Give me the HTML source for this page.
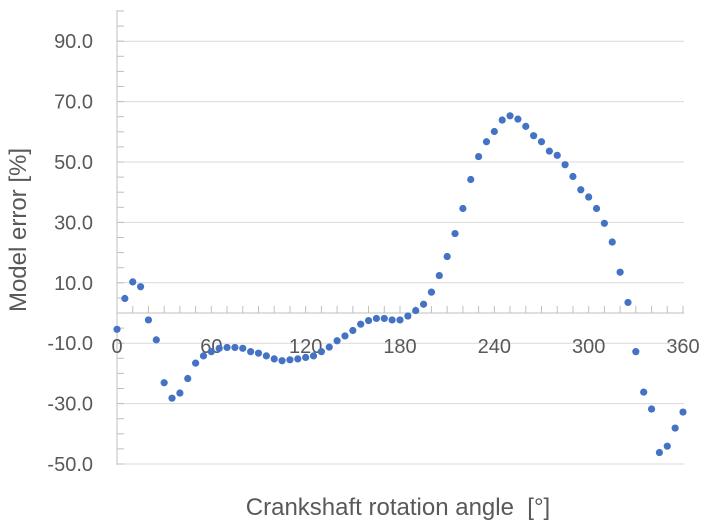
<!DOCTYPE html>
<html><head><meta charset="utf-8"><style>
html,body{margin:0;padding:0;background:#fff;}
svg{display:block;font-family:"Liberation Sans",sans-serif;}
</style></head><body>
<svg id="chart" width="708" height="532" viewBox="0 0 708 532"></svg>
<script>
const angles=[];for(let a=0;a<=360;a+=5)angles.push(a);
const errors=[-5.4,4.8,10.3,8.7,-2.3,-8.9,-23.1,-28.2,-26.5,-21.7,-16.6,-14.2,-12.8,-11.7,-11.4,-11.4,-11.7,-12.8,-13.3,-14.2,-15.2,-15.8,-15.5,-15.2,-14.7,-14.2,-12.8,-11.3,-9.2,-7.6,-5.8,-3.7,-2.5,-1.8,-1.8,-2.3,-2.3,-1.0,0.8,2.9,6.9,12.4,18.7,26.3,34.6,44.2,51.8,56.7,60.1,63.9,65.3,64.2,61.8,58.7,56.7,53.6,52.2,49.1,45.2,40.8,38.4,34.6,29.7,23.5,13.5,3.5,-12.8,-26.2,-31.8,-46.2,-44.1,-38.1,-32.8];
const xTicks=[0,60,120,180,240,300,360];
const yTicks=[90,70,50,30,10,-10,-30,-50];
const NS="http://www.w3.org/2000/svg";
const svg=document.getElementById('chart');
const X=v=>117+v*(566/360);
const Y=v=>313-v*3.02;
function el(t,a,p){const e=document.createElementNS(NS,t);for(const k in a)e.setAttribute(k,a[k]);(p||svg).appendChild(e);return e;}
for(const t of yTicks){
 const g=el('line',{x1:117,x2:684,y1:Y(t),y2:Y(t),stroke:'#d9d9d9','stroke-width':1});
 
 
 const l=el('text',{x:93,y:Y(t)+7,'text-anchor':'end','font-size':20,fill:'#595959'});
 l.textContent=t.toFixed(1);
 
 
}
const ya=el('line',{x1:117,x2:117,y1:10,y2:465,stroke:'#bfbfbf','stroke-width':1});


for(let v=-50;v<=100;v+=5){const t=el('line',{x1:117,x2:124,y1:Y(v),y2:Y(v),stroke:'#bfbfbf'});}
const xa=el('line',{x1:117,x2:684,y1:313,y2:313,stroke:'#bfbfbf','stroke-width':1});


for(let a=0;a<=360;a+=10){const t=el('line',{x1:X(a),x2:X(a),y1:306,y2:313,stroke:'#bfbfbf'});}
for(const t of xTicks){
 const l=el('text',{x:X(t),y:353,'text-anchor':'middle','font-size':20,fill:'#595959'});
 l.textContent=t;
 
 
}
angles.forEach((a,i)=>{
 const c=el('circle',{cx:X(a),cy:Y(errors[i]),r:3.6,fill:'#4472c4'});
 
 
});
const xt=el('text',{x:398,y:515,'text-anchor':'middle','font-size':24,fill:'#595959'});
xt.setAttribute('xml:space','preserve');
xt.style.whiteSpace='pre';
xt.textContent='Crankshaft rotation angle  [°]';


const yt=el('text',{x:0,y:0,'text-anchor':'middle','font-size':24,fill:'#595959',transform:'translate(26,230) rotate(-90)'});
yt.textContent='Model error [%]';


</script>
</body></html>
